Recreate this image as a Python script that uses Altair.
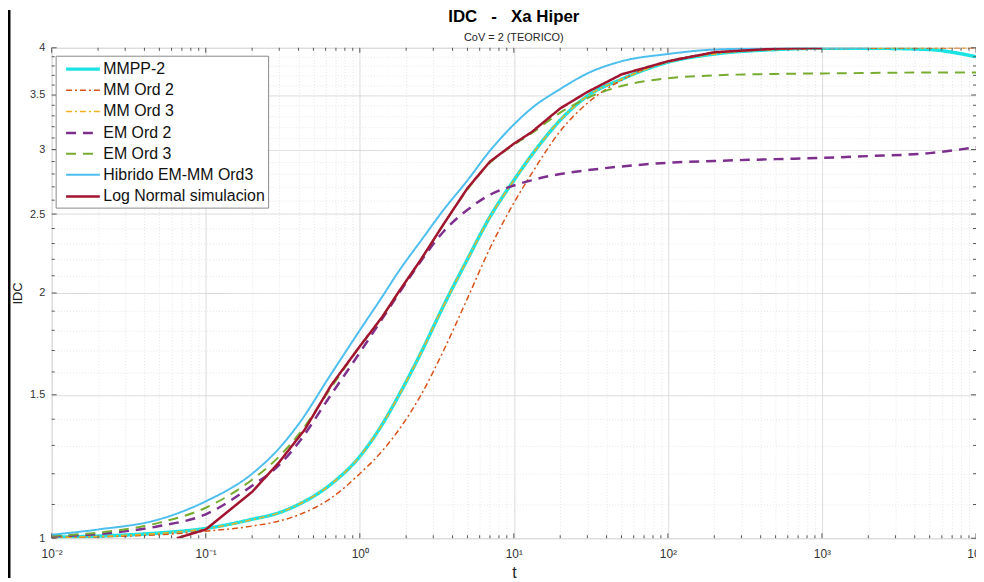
import math
import altair as alt
import pandas as pd

# ---------------- data ----------------
SERIES = ["MMPP-2", "MM Ord 2", "MM Ord 3", "EM Ord 2", "EM Ord 3",
          "Hibrido EM-MM Ord3", "Log Normal simulacion"]

t_mmpp = [0.01, 0.02, 0.05, 0.1, 0.2, 0.3, 0.4, 0.65, 1, 1.4, 1.8, 2.5, 3.5, 5, 7,
          10, 13, 20, 30, 50, 100, 200, 500, 1000, 2000, 5000, 7000, 10000]
y_mmpp = [1.003, 1.006, 1.015, 1.028, 1.055, 1.075, 1.10, 1.165, 1.26, 1.38, 1.50,
          1.69, 1.93, 2.20, 2.48, 2.75, 2.95, 3.26, 3.49, 3.66, 3.84, 3.93, 3.98,
          3.995, 3.995, 3.98, 3.95, 3.90]

t_mm2 = [0.01, 0.02, 0.05, 0.1, 0.2, 0.3, 0.4, 0.65, 1, 1.4, 1.8, 2.5, 3.5, 5, 7,
         10, 13, 20, 30, 50, 100, 200, 500, 1000, 2000, 5000, 10000]
y_mm2 = [1.002, 1.004, 1.01, 1.02, 1.035, 1.05, 1.068, 1.12, 1.20, 1.28, 1.36, 1.50,
         1.70, 1.97, 2.27, 2.58, 2.80, 3.16, 3.42, 3.65, 3.85, 3.94, 3.98, 3.99,
         3.995, 3.998, 4.0]

t_mm3 = [0.01, 0.02, 0.05, 0.1, 0.2, 0.3, 0.4, 0.65, 1, 1.4, 1.8, 2.5, 3.5, 5, 7,
         10, 13, 20, 30, 50, 100, 200, 500, 1000, 2000, 5000, 10000]
y_mm3 = [1.002, 1.005, 1.014, 1.027, 1.054, 1.075, 1.10, 1.165, 1.26, 1.38, 1.50,
         1.69, 1.93, 2.20, 2.48, 2.75, 2.95, 3.26, 3.49, 3.66, 3.84, 3.93, 3.98,
         3.995, 3.998, 4.0, 4.0]

t_em2 = [0.01, 0.02, 0.05, 0.1, 0.2, 0.3, 0.4, 0.65, 1, 1.4, 1.8, 2.5, 3.5, 5, 7,
         10, 13, 20, 30, 50, 100, 200, 500, 1000, 2000, 5000, 10000]
y_em2 = [1.005, 1.012, 1.035, 1.07, 1.16, 1.23, 1.31, 1.50, 1.69, 1.86, 2.0, 2.19,
         2.38, 2.53, 2.64, 2.71, 2.75, 2.80, 2.83, 2.86, 2.89, 2.905, 2.92, 2.93,
         2.945, 2.97, 3.02]

t_em3 = [0.01, 0.02, 0.05, 0.1, 0.2, 0.3, 0.4, 0.65, 1, 1.4, 1.8, 2.5, 3.5, 5, 7,
         10, 13, 20, 25, 30, 50, 100, 200, 500, 1000, 2000, 5000, 10000]
y_em3 = [1.007, 1.016, 1.045, 1.09, 1.18, 1.26, 1.34, 1.53, 1.72, 1.87, 2.01, 2.20,
         2.43, 2.68, 2.89, 3.04, 3.14, 3.33, 3.41, 3.47, 3.59, 3.67, 3.70, 3.715,
         3.72, 3.725, 3.73, 3.73]

t_hib = [0.01, 0.02, 0.05, 0.1, 0.2, 0.3, 0.4, 0.65, 1, 1.4, 1.8, 2.5, 3.5, 5, 7,
         10, 13, 20, 30, 50, 100, 200, 500, 1000, 2000]
y_hib = [1.01, 1.025, 1.055, 1.11, 1.20, 1.29, 1.38, 1.59, 1.80, 1.98, 2.13, 2.32,
         2.53, 2.75, 2.99, 3.22, 3.37, 3.56, 3.72, 3.85, 3.93, 3.98, 3.995, 4.0, 4.0]

t_logn = [0.065, 0.1, 0.2, 0.3, 0.44, 0.65, 1, 1.4, 1.8, 2.5, 3.5, 5, 7, 10, 13, 20,
          30, 50, 100, 200, 500, 1000]
y_logn = [1.0, 1.025, 1.14, 1.24, 1.36, 1.54, 1.72, 1.87, 2.01, 2.20, 2.43, 2.69,
          2.90, 3.05, 3.15, 3.37, 3.53, 3.71, 3.85, 3.95, 3.99, 4.0]

x_ticks = [m * 10.0 ** e for e in range(-2, 4) for m in range(1, 10)] + [10000.0]
y_ticks = [round(1.0 + 0.1 * i, 1) for i in range(31)]
x_labels = ["10\u207b\u00b2", "10\u207b\u00b9", "10\u2070", "10\u00b9", "10\u00b2",
            "10\u00b3", "10\u2074"]

TITLE = "IDC \u00a0\u00a0-\u00a0\u00a0 Xa Hiper"
SUBTITLE = "CoV = 2 (TEORICO)"

# ---------------- styles ----------------
COLORS = ["#1BE3E3", "#D95319", "#EDB120", "#7E2F8E", "#77AC30", "#4DBEEE", "#A2142F"]
DASHES = [[1, 0], [6, 3, 2, 3], [6, 3, 2, 3], [10, 7], [10, 7], [1, 0], [1, 0]]
WIDTHS = [3.5, 1.5, 1.5, 2.5, 2.0, 2.0, 2.5]
INTERP = ["monotone", "monotone", "monotone", "monotone", "monotone", "monotone", "linear"]

W, H = 931, 494
FONT = "Liberation Sans"

rows = []
for name, ts, ys in zip(SERIES,
                        [t_mmpp, t_mm2, t_mm3, t_em2, t_em3, t_hib, t_logn],
                        [y_mmpp, y_mm2, y_mm3, y_em2, y_em3, y_hib, y_logn]):
    for t, y in zip(ts, ys):
        rows.append({"t": t, "idc": y, "serie": name})
df = pd.DataFrame(rows)

xt = pd.DataFrame({"t": x_ticks})
xt["major"] = [abs(math.log10(v) - round(math.log10(v))) < 1e-9 for v in x_ticks]
yt = pd.DataFrame({"idc": y_ticks})
yt["major"] = [abs(v * 2 - round(v * 2)) < 1e-9 for v in y_ticks]

x_major_test = "abs(log(datum.value)/LN10 - round(log(datum.value)/LN10)) < 0.001"
y_major_test = "abs(datum.value*2 - round(datum.value*2)) < 0.001"

xscale = alt.Scale(type="log", domain=[0.01, 10000], nice=False)
yscale = alt.Scale(type="log", domain=[1, 4], nice=False)

x_axis = alt.Axis(
    values=x_ticks,
    labelExpr=(x_major_test + " ? " + str(x_labels)
               + "[round(log(datum.value)/LN10)+2] : ''"),
    grid=True,
    gridColor={"condition": {"test": x_major_test, "value": "#d9d9d9"}, "value": "#e6e6e6"},
    gridDash={"condition": {"test": x_major_test, "value": [1, 0]}, "value": [1, 2]},
    ticks=False, domain=False,
    labelFontSize=12, labelColor="#333333", labelFont=FONT, labelPadding=10,
    labelFlush=False, labelOverlap=False,
    title="t", titleFontSize=16, titleFontWeight="normal", titleColor="#222222",
    titleFont=FONT, titlePadding=6,
)
y_axis = alt.Axis(
    values=y_ticks,
    labelExpr=y_major_test + " ? format(datum.value, '~g') : ''",
    grid=True,
    gridColor={"condition": {"test": y_major_test, "value": "#d9d9d9"}, "value": "#e6e6e6"},
    gridDash={"condition": {"test": y_major_test, "value": [1, 0]}, "value": [1, 2]},
    ticks=False, domain=False,
    labelFontSize=11, labelColor="#333333", labelFont=FONT, labelPadding=7,
    labelFlush=False, labelOverlap=False,
    title="IDC", titleFontSize=13, titleFontWeight="normal", titleColor="#222222",
    titleFont=FONT, titlePadding=5,
)

base = alt.Chart(df).encode(
    x=alt.X("t:Q", scale=xscale, axis=x_axis),
    y=alt.Y("idc:Q", scale=yscale, axis=y_axis),
    color=alt.Color("serie:N", scale=alt.Scale(domain=SERIES, range=COLORS),
                    legend=alt.Legend(title=None, orient="none", legendX=4, legendY=8,
                                      symbolType="M-2,0L2,0", symbolSize=289,
                                      labelFontSize=16, labelFont=FONT, labelColor="#111111",
                                      fillColor="white", strokeColor="#8a8a8a",
                                      padding=3, rowPadding=3.3, labelOffset=10,
                                      symbolOffset=14, labelLimit=400)),
    strokeDash=alt.StrokeDash("serie:N", scale=alt.Scale(domain=SERIES, range=DASHES),
                              legend=alt.Legend(title=None)),
    strokeWidth=alt.StrokeWidth("serie:N",
                                scale=alt.Scale(type="ordinal", domain=SERIES, range=WIDTHS),
                                legend=alt.Legend(title=None)),
)

line_layers = [
    base.transform_filter(alt.datum.serie == s).mark_line(clip=True, interpolate=ip)
    for s, ip in zip(SERIES, INTERP)
]

def xtick_layer(major, top):
    ln = 5 if major else 3
    y0, y1 = (0, ln) if top else (H, H - ln)
    return alt.Chart(xt).transform_filter(
        alt.datum.major if major else ~alt.datum.major
    ).mark_rule(color="#555555", strokeWidth=1).encode(
        x=alt.X("t:Q", scale=xscale), y=alt.value(y0), y2=alt.value(y1))

def ytick_layer(major, right):
    ln = 5 if major else 3
    x0, x1 = (W, W - ln) if right else (0, ln)
    return alt.Chart(yt).transform_filter(
        alt.datum.major if major else ~alt.datum.major
    ).mark_rule(color="#555555", strokeWidth=1).encode(
        y=alt.Y("idc:Q", scale=yscale), x=alt.value(x0), x2=alt.value(x1))

tick_layers = [xtick_layer(m, tp) for m in (True, False) for tp in (True, False)] + \
              [ytick_layer(m, r) for m in (True, False) for r in (True, False)]

# window border seen at the left edge of the reference screenshot
frame = alt.Chart(pd.DataFrame({"k": [0]})).mark_rule(color="black", strokeWidth=3).encode(
    x=alt.value(-43), y=alt.value(-38), y2=alt.value(H + 40))

chart = alt.layer(*line_layers, *tick_layers, frame).properties(
    width=W, height=H,
    autosize=alt.AutoSizeParams(type="none"),
    padding={"left": 44, "top": 38, "right": 0, "bottom": 40},
    title=alt.Title(TITLE, subtitle=SUBTITLE,
                    fontSize=17, fontWeight="bold", font=FONT, color="#000000",
                    subtitleFont=FONT, subtitleFontSize=11, subtitleColor="#262626",
                    subtitlePadding=6, anchor="middle", offset={"expr": "-36"}),
).configure_view(stroke="#666666", strokeWidth=1).configure(font=FONT)

chart.save("out.html", embed_options={"renderer": "svg", "actions": False})
